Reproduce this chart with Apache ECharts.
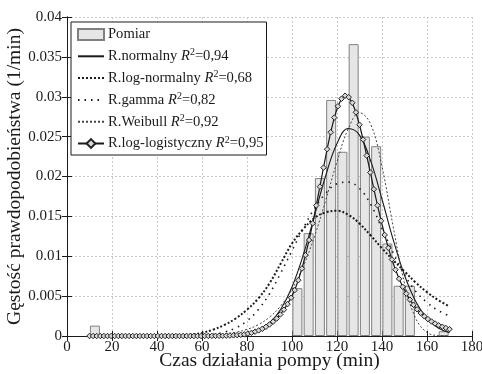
<!DOCTYPE html>
<html>
<head>
<meta charset="utf-8">
<script src="https://cdn.jsdelivr.net/npm/echarts@6/dist/echarts.min.js"></script>
<style>
  html, body { margin: 0; padding: 0; background: #fff; }
  #main { width: 482px; height: 374px; }
</style>
</head>
<body>
<div id="main"></div>
<script>
// histogram bins (start of 5-min bin) and measured density
const binStart = [10, 100, 105, 110, 115, 120, 125, 130, 135, 140, 145, 150, 165];
const pomiar = [0.0013, 0.0060, 0.0129, 0.0198, 0.0296, 0.0231, 0.0366, 0.0250, 0.0238, 0.0116, 0.0063, 0.0063, 0.0006];

// fitted curves, x = 10..170 every 5 min
const fitX = [10, 15, 20, 25, 30, 35, 40, 45, 50, 55, 60, 65, 70, 75, 80, 85, 90, 95, 100, 105, 110, 115, 120, 125, 130, 135, 140, 145, 150, 155, 160, 165, 170];
const normalny = [0, 0, 0, 0, 0, 0, 0, 0, 0, 0, 0, 0.00001, 0.00003, 0.0001, 0.00028, 0.00072, 0.00164, 0.00335, 0.00615, 0.01016, 0.01509, 0.02013, 0.02414, 0.02602, 0.02519, 0.02193, 0.01715, 0.01206, 0.00762, 0.00433, 0.00221, 0.00101, 0.00042];
const logNormalny = [0, 0, 0, 0, 0, 0, 0, 0, 0.0001, 0.0002, 0.0004, 0.0008, 0.0014, 0.0022, 0.0033, 0.0047, 0.0066, 0.0091, 0.0116, 0.0134, 0.0148, 0.0155, 0.0157, 0.0152, 0.0141, 0.0126, 0.0110, 0.0095, 0.0081, 0.0067, 0.0055, 0.0045, 0.0037];
const gamma = [0, 0, 0, 0, 0, 0, 0, 0, 0, 0, 0.0001, 0.0002, 0.0005, 0.0010, 0.0019, 0.0033, 0.0053, 0.0079, 0.0107, 0.0135, 0.0160, 0.0179, 0.0191, 0.0193, 0.0185, 0.0165, 0.0135, 0.0104, 0.0077, 0.0056, 0.0042, 0.0032, 0.0025];
const weibull = [0, 0, 0, 0, 0, 0, 0, 0, 0, 0, 0.00006, 0.00013, 0.00025, 0.00047, 0.00083, 0.00142, 0.00236, 0.00378, 0.00585, 0.00873, 0.01249, 0.01703, 0.02185, 0.02598, 0.02799, 0.02652, 0.02124, 0.01366, 0.00661, 0.0022, 0.00045, 0.00005, 0];

// log-logistic curve is drawn with markers, sampled every 1.6 min
const logLogX = [10, 11.6, 13.2, 14.8, 16.4, 18, 19.6, 21.2, 22.8, 24.4, 26, 27.6, 29.2, 30.8, 32.4, 34, 35.6, 37.2, 38.8, 40.4,
  42, 43.6, 45.2, 46.8, 48.4, 50, 51.6, 53.2, 54.8, 56.4, 58, 59.6, 61.2, 62.8, 64.4, 66, 67.6, 69.2, 70.8, 72.4,
  74, 75.6, 77.2, 78.8, 80.4, 82, 83.6, 85.2, 86.8, 88.4, 90, 91.6, 93.2, 94.8, 96.4, 98, 99.6, 101.2, 102.8, 104.4,
  106, 107.6, 109.2, 110.8, 112.4, 114, 115.6, 117.2, 118.8, 120.4, 122, 123.6, 125.2, 126.8, 128.4, 130, 131.6, 133.2, 134.8, 136.4,
  138, 139.6, 141.2, 142.8, 144.4, 146, 147.6, 149.2, 150.8, 152.4, 154, 155.6, 157.2, 158.8, 160.4, 162, 163.6, 165.2, 166.8, 168.4, 170];
const logLogistyczny = [0, 0, 0, 0, 0, 0, 0, 0, 0, 0, 0, 0, 0, 0, 0, 0, 0, 0, 0, 0,
  0, 0, 0, 0, 0, 0, 0, 0, 0, 0, 0, 0, 0.00001, 0.00001, 0.00001, 0.00002, 0.00002, 0.00003, 0.00004, 0.00006,
  0.00008, 0.00011, 0.00015, 0.0002, 0.0003, 0.0004, 0.00055, 0.0007, 0.0009, 0.00115, 0.00145, 0.0018, 0.0022, 0.0027, 0.0033, 0.0040, 0.0048, 0.00575, 0.0070, 0.00846,
  0.01014, 0.01203, 0.01413, 0.01637, 0.01873, 0.02111, 0.02342, 0.02555, 0.02739, 0.02881, 0.02975, 0.03013, 0.02995, 0.02924, 0.02805, 0.02649, 0.02464, 0.02262, 0.02051, 0.01841,
  0.01638, 0.01445, 0.01267, 0.01105, 0.0096, 0.00831, 0.00717, 0.00617, 0.00531, 0.00456, 0.00391, 0.00335, 0.00288, 0.00247, 0.00212, 0.00182, 0.00156, 0.00134, 0.00116, 0.001, 0.00086];

const r2 = {
  'R.normalny': '0,94',
  'R.log-normalny': '0,68',
  'R.gamma': '0,82',
  'R.Weibull': '0,92',
  'R.log-logistyczny': '0,95'
};

const font = "'Liberation Serif', 'Times New Roman', serif";
const ink = '#1a1a1a';

const pairs = (xs, ys) => xs.map((x, i) => [x, ys[i]]);

const myChart = echarts.init(document.getElementById('main'));

const tickAxis = {
  axisLine: { show: true, lineStyle: { color: ink, width: 1 } },
  axisTick: { show: true, inside: true, length: 5, lineStyle: { color: ink } },
  axisLabel: { show: false },
  splitLine: { show: false }
};

const fitLine = (name, data, lineStyle) => ({
  name: name,
  type: 'line',
  data: data,
  symbol: 'none',
  smooth: 0.4,
  lineStyle: Object.assign({ color: ink }, lineStyle),
  itemStyle: { color: ink },
  z: 3
});

// legend entries for plain lines: hide the legend marker, keep the line
const noMarker = (name) => ({ name: name, itemStyle: { opacity: 0 } });

const option = {
  animation: false,
  backgroundColor: '#fff',
  grid: { left: 67, right: 10, top: 17, bottom: 38, containLabel: false, outerBoundsMode: 'none' },
  legend: {
    orient: 'vertical',
    left: 71,
    top: 22,
    padding: [4, 3, 3, 6],
    itemGap: 4.8,
    itemWidth: 26,
    itemHeight: 11,
    backgroundColor: '#fff',
    borderColor: ink,
    borderWidth: 1,
    data: [
      { name: 'Pomiar', icon: 'rect' },
      noMarker('R.normalny'), noMarker('R.log-normalny'), noMarker('R.gamma'), noMarker('R.Weibull'),
      'R.log-logistyczny'
    ],
    formatter: function (name) {
      if (!r2[name]) return name;
      return name + ' {i|R}{s|2}=' + r2[name];
    },
    textStyle: {
      fontFamily: font,
      fontSize: 14.6,
      lineHeight: 17,
      color: ink,
      padding: [0, 0, 0, -1],
      rich: {
        i: { fontFamily: font, fontSize: 14.6, fontStyle: 'italic', color: ink, lineHeight: 17 },
        s: { fontFamily: font, fontSize: 10, color: ink, verticalAlign: 'top', lineHeight: 17, padding: [0, 0, 6, 0] }
      }
    }
  },
  xAxis: [
    {
      type: 'value', min: 0, max: 180, interval: 20,
      name: 'Czas działania pompy (min)',
      nameLocation: 'middle', nameGap: 15, nameMoveOverlap: false,
      nameTextStyle: { fontFamily: font, fontSize: 19.5, color: ink },
      axisLine: { show: true, onZero: false, lineStyle: { color: ink, width: 1 } },
      axisTick: { show: true, inside: true, length: 5, lineStyle: { color: ink } },
      axisLabel: { fontFamily: font, fontSize: 15, color: ink, margin: 4 },
      splitLine: { show: true, lineStyle: { color: '#c8c8c8', type: [2, 2], width: 1 } }
    },
    Object.assign({ type: 'value', min: 0, max: 180, interval: 20, position: 'top' }, tickAxis)
  ],
  yAxis: [
    {
      type: 'value', min: 0, max: 0.04, interval: 0.005,
      name: 'Gęstość prawdopodobieństwa (1/min)',
      nameLocation: 'middle', nameGap: 42, nameMoveOverlap: false,
      nameTextStyle: { fontFamily: font, fontSize: 19.5, color: ink },
      axisLine: { show: true, onZero: false, lineStyle: { color: ink, width: 1 } },
      axisTick: { show: true, inside: true, length: 5, lineStyle: { color: ink } },
      axisLabel: { fontFamily: font, fontSize: 15, color: ink, margin: 5 },
      splitLine: { show: true, lineStyle: { color: '#c8c8c8', type: [2, 2], width: 1 } }
    },
    Object.assign({ type: 'value', min: 0, max: 0.04, interval: 0.005, position: 'right' }, tickAxis)
  ],
  series: [
    {
      name: 'Pomiar',
      type: 'bar',
      data: binStart.map((b, i) => [b + 2.4, pomiar[i]]),
      barWidth: 10,
      itemStyle: { color: '#e6e6e6', borderColor: '#808080', borderWidth: 1 },
      z: 1
    },
    fitLine('R.normalny', pairs(fitX, normalny), { width: 1.1, type: 'solid' }),
    fitLine('R.log-normalny', pairs(fitX, logNormalny), { width: 2, type: [2, 2] }),
    fitLine('R.gamma', pairs(fitX, gamma), { width: 1.6, type: [1.5, 5] }),
    fitLine('R.Weibull', pairs(fitX, weibull), { width: 1, type: [2, 2], color: '#444' }),
    {
      name: 'R.log-logistyczny',
      type: 'line',
      data: pairs(logLogX, logLogistyczny),
      symbol: 'diamond',
      symbolSize: 5.5,
      showAllSymbol: true,
      lineStyle: { color: ink, width: 1.2 },
      itemStyle: { color: '#d8d8d8', borderColor: '#222', borderWidth: 1 },
      z: 4
    }
  ]
};

myChart.setOption(option);
window.addEventListener('resize', function () { myChart.resize(); });
</script>
</body>
</html>
